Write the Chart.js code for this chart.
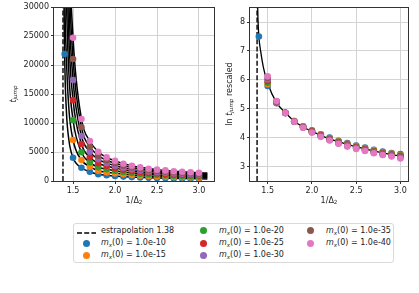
<!DOCTYPE html>
<html>
<head>
<meta charset="utf-8">
<script src="https://cdn.jsdelivr.net/npm/chart.js@4.4.0/dist/chart.umd.min.js"></script>
<style>
  html, body { margin: 0; padding: 0; background: #fff; }
  #fig { position: relative; width: 419px; height: 293px; overflow: hidden; font-family: "DejaVu Sans", sans-serif; color: #222; }
  #left { position: absolute; left: 0; top: 0; }
  #right { position: absolute; left: 222px; top: 0; }
  #legend { position: absolute; left: 73px; top: 223px; width: 321px; height: 40px; border: 1px solid #d9d9d9; border-radius: 3px; box-sizing: border-box; }
  .item { position: absolute; font-size: 8px; line-height: 10px; white-space: nowrap; }
  .dot { position: absolute; width: 7px; height: 7px; border-radius: 50%; }
  .item sub { font-size: 5.6px; vertical-align: -1.5px; line-height: 0; }
</style>
</head>
<body>
<div id="fig">
  <canvas id="left" width="222" height="212"></canvas>
  <canvas id="right" width="197" height="212"></canvas>
  <div id="legend"></div>
</div>
<script>
"use strict";

// 1/Delta_2 values of the simulations
const deltaInv = [1.4, 1.5, 1.6, 1.7, 1.8, 1.9, 2.0, 2.1, 2.2, 2.3, 2.4, 2.5, 2.6, 2.7, 2.8, 2.9, 3.0];
const mx0Labels = ["1.0e-10", "1.0e-15", "1.0e-20", "1.0e-25", "1.0e-30", "1.0e-35", "1.0e-40"];
const colors = ["#1f77b4", "#ff7f0e", "#2ca02c", "#d62728", "#9467bd", "#8c564b", "#e377c2"];
const estrapolation = 1.38;

// t_jump (left panel)
const tJump10 = [21900, 4020, 2290, 1600, 1160, 991, 862, 758, 672, 601, 556, 513, 478, 442, 416, 395, 380];
const tJump15 = [null, 7070, 3620, 2470, 1780, 1516, 1319, 1157, 1017, 910, 842, 777, 724, 669, 629, 599, 570];
const tJump20 = [null, 10520, 4950, 3220, 2360, 2038, 1772, 1540, 1367, 1226, 1120, 1032, 962, 890, 839, 797, 759];
const tJump25 = [null, 13960, 6380, 4090, 3050, 2575, 2217, 1927, 1692, 1516, 1386, 1281, 1193, 1102, 1037, 988, 939];
const tJump30 = [null, 17410, 7760, 5050, 3740, 3085, 2628, 2285, 2005, 1797, 1643, 1517, 1414, 1304, 1229, 1170, 1099];
const tJump35 = [null, 21030, 9260, 5910, 4370, 3581, 3049, 2652, 2328, 2088, 1890, 1742, 1626, 1502, 1414, 1344, 1266];
const tJump40 = [null, 24700, 10690, 6900, 5050, 4065, 3466, 2984, 2618, 2348, 2120, 1961, 1829, 1685, 1590, 1511, 1410];

// ln t_jump rescaled (right panel)
const resc10 = [7.50, 5.79, 5.19, 4.86, 4.57, 4.39, 4.25, 4.12, 4.00, 3.89, 3.81, 3.73, 3.66, 3.58, 3.52, 3.47, 3.43];
const resc15 = [null, 5.85, 5.20, 4.86, 4.57, 4.38, 4.24, 4.11, 3.98, 3.87, 3.79, 3.71, 3.64, 3.56, 3.50, 3.45, 3.40];
const resc20 = [null, 5.90, 5.22, 4.86, 4.56, 4.37, 4.23, 4.09, 3.97, 3.86, 3.77, 3.69, 3.62, 3.54, 3.48, 3.43, 3.38];
const resc25 = [null, 5.96, 5.23, 4.86, 4.56, 4.37, 4.22, 4.08, 3.95, 3.84, 3.75, 3.67, 3.60, 3.52, 3.46, 3.41, 3.36];
const resc30 = [null, 6.01, 5.24, 4.85, 4.56, 4.36, 4.20, 4.06, 3.93, 3.82, 3.73, 3.65, 3.58, 3.50, 3.44, 3.39, 3.33];
const resc35 = [null, 6.07, 5.26, 4.85, 4.55, 4.35, 4.19, 4.05, 3.92, 3.81, 3.71, 3.63, 3.56, 3.48, 3.42, 3.37, 3.31];
const resc40 = [null, 6.12, 5.27, 4.85, 4.55, 4.34, 4.18, 4.03, 3.90, 3.79, 3.69, 3.61, 3.54, 3.46, 3.40, 3.35, 3.28];

// fitted curves, left panel
const fitX = [1.385, 1.39, 1.40, 1.42, 1.45, 1.5, 1.6, 1.7, 1.8, 1.9, 2.0, 2.2, 2.5, 2.8, 3.1];
const fit10 = [70900, 37800, 21900, 12300, 7110, 4020, 2290, 1600, 1160, 991, 862, 672, 513, 416, 365];
const fit15 = [124800, 66500, 35700, 21700, 12500, 7070, 3620, 2470, 1780, 1516, 1319, 1017, 777, 629, 550];
const fit20 = [185000, 98800, 53100, 32200, 18600, 10520, 4950, 3220, 2360, 2038, 1772, 1367, 1032, 839, 730];
const fit25 = [246000, 131000, 70500, 42800, 24700, 13960, 6380, 4090, 3050, 2575, 2217, 1692, 1281, 1037, 900];
const fit30 = [307000, 163000, 87900, 53300, 30800, 17410, 7760, 5050, 3740, 3085, 2628, 2005, 1517, 1229, 1060];
const fit35 = [371000, 197000, 106000, 64400, 37200, 21030, 9260, 5910, 4370, 3581, 3049, 2328, 1742, 1414, 1220];
const fit40 = [434000, 231000, 124000, 75400, 43500, 24700, 10690, 6900, 5050, 4065, 3466, 2618, 1961, 1590, 1360];

// fitted curve, right panel
const fitRX = [1.385, 1.39, 1.40, 1.42, 1.45, 1.5, 1.6, 1.7, 1.8, 1.9, 2.0, 2.2, 2.4, 2.6, 2.8, 3.0];
const fitR = [8.75, 8.12, 7.50, 7.00, 6.45, 5.88, 5.21, 4.86, 4.57, 4.37, 4.22, 3.96, 3.77, 3.61, 3.47, 3.36];

const xTicks = [1.5, 2.0, 2.5, 3.0];
const yTicksLeft = [0, 5000, 10000, 15000, 20000, 25000, 30000];
const yTicksRight = [3, 4, 5, 6, 7, 8];

const tJump = [tJump10, tJump15, tJump20, tJump25, tJump30, tJump35, tJump40];
const rescaled = [resc10, resc15, resc20, resc25, resc30, resc35, resc40];
const fits = [fit10, fit15, fit20, fit25, fit30, fit35, fit40];

const FONT = "DejaVu Sans";
const TXT = "#222";

const toPoints = (xs, ys) =>
  xs.map((x, i) => ({ x: x, y: ys[i] })).filter((p) => p.y !== null);

const fontFor = (p) =>
  (p.it ? "italic " : "") + (p.sub ? "5.6px " : "8px ") + '"' + FONT + '"';

function drawParts(ctx, parts, cx, cy) {
  let w = 0;
  parts.forEach((p) => {
    ctx.font = fontFor(p);
    w += ctx.measureText(p.t).width;
  });
  let x = cx - w / 2;
  parts.forEach((p) => {
    ctx.font = fontFor(p);
    ctx.fillText(p.t, x, cy + (p.sub ? 2 : 0));
    x += ctx.measureText(p.t).width;
  });
}

const makeTitles = (xParts, yParts, yOffset) => ({
  id: "titles",
  afterDraw(chart) {
    const ctx = chart.ctx;
    const a = chart.chartArea;
    ctx.save();
    ctx.fillStyle = TXT;
    ctx.textAlign = "left";
    ctx.textBaseline = "middle";
    drawParts(ctx, xParts, (a.left + a.right) / 2, a.bottom + 20);
    ctx.translate(a.left - yOffset, (a.top + a.bottom) / 2);
    ctx.rotate(-Math.PI / 2);
    drawParts(ctx, yParts, 0, 0);
    ctx.restore();
  },
});

const frame = {
  id: "frame",
  afterDatasetsDraw(chart) {
    const ctx = chart.ctx;
    const a = chart.chartArea;
    ctx.save();
    ctx.strokeStyle = "#333";
    ctx.lineWidth = 1;
    ctx.strokeRect(Math.round(a.left) - 0.5, Math.round(a.top) + 0.5,
      Math.round(a.right - a.left) + 1, Math.round(a.bottom - a.top));
    ctx.restore();
  },
};

function makeScales(xMin, xMax, yMin, yMax, yTicks, yWidth) {
  const grid = { color: "#d3d3d3", lineWidth: 1, drawTicks: true, tickLength: 3, tickColor: "#333" };
  const ticks = { font: { family: FONT, size: 8 }, color: TXT, padding: 2, autoSkip: false, maxRotation: 0 };
  return {
    x: {
      type: "linear", min: xMin, max: xMax, grid: grid, border: { display: false },
      ticks: Object.assign({}, ticks, { callback: (v) => v.toFixed(1) }),
      afterBuildTicks: (s) => { s.ticks = xTicks.map((v) => ({ value: v })); },
      afterFit: (s) => { s.height = 31; },
    },
    y: {
      type: "linear", min: yMin, max: yMax, grid: grid, border: { display: false },
      ticks: Object.assign({}, ticks, { callback: (v) => String(v) }),
      afterBuildTicks: (s) => { s.ticks = yTicks.map((v) => ({ value: v })); },
      afterFit: (s) => { s.width = yWidth; },
    },
  };
}

function markerSets(values) {
  return values.map((arr, k) => ({
    data: toPoints(deltaInv, arr),
    showLine: false,
    pointRadius: 3.3,
    pointHoverRadius: 3.3,
    pointBorderWidth: 0,
    backgroundColor: colors[k],
    borderColor: colors[k],
    order: 6 - k,
  }));
}

const curveSet = (xs, ys, width) => ({
  data: toPoints(xs, ys),
  showLine: true,
  pointRadius: 0,
  borderColor: "#000",
  borderWidth: width,
  cubicInterpolationMode: "monotone",
  fill: false,
  order: 10,
});

const dashedSet = (yMin, yMax) => ({
  data: [{ x: estrapolation, y: yMin }, { x: estrapolation, y: yMax }],
  showLine: true,
  pointRadius: 0,
  borderColor: "#000",
  borderWidth: 1.4,
  borderDash: [5, 2.2],
  order: 11,
});

const baseOptions = (scales, padRight) => ({
  responsive: false,
  animation: false,
  devicePixelRatio: 1,
  layout: { padding: { top: 7, right: padRight, left: 0, bottom: 0 } },
  plugins: { legend: { display: false }, tooltip: { enabled: false } },
  scales: scales,
});

// left panel: t_jump
new Chart(document.getElementById("left").getContext("2d"), {
  type: "scatter",
  data: {
    datasets: [dashedSet(0, 30000)]
      .concat(fits.map((f) => curveSet(fitX, f, 1.5)))
      .concat(markerSets(tJump)),
  },
  options: baseOptions(makeScales(1.273, 3.179, 0, 30000, yTicksLeft, 54), 8),
  plugins: [frame, makeTitles(
    [{ t: "1/Δ" }, { t: "2", sub: true }],
    [{ t: "t", it: true }, { t: "jump", it: true, sub: true }],
    40.5)],
});

// right panel: ln t_jump rescaled
new Chart(document.getElementById("right").getContext("2d"), {
  type: "scatter",
  data: {
    datasets: [dashedSet(2.5, 8.52), curveSet(fitRX, fitR, 1.3)]
      .concat(markerSets(rescaled)),
  },
  options: baseOptions(makeScales(1.30, 3.086, 2.5, 8.52, yTicksRight, 28), 11),
  plugins: [frame, makeTitles(
    [{ t: "1/Δ" }, { t: "2", sub: true }],
    [{ t: "ln " }, { t: "t", it: true }, { t: "jump", it: true, sub: true }, { t: " rescaled" }],
    20.5)],
});

// legend (matplotlib style, filled column by column)
const legend = document.getElementById("legend");
const colDot = [12, 129, 236];
const colText = [27, 145, 252];
const rowY = [7.7, 20, 32.4];
const entries = [{ dashed: true, label: "estrapolation " + estrapolation }].concat(
  mx0Labels.map((m, k) => ({ color: colors[k], label: "<i>m</i><sub><i>x</i></sub>(0) = " + m })));

entries.forEach((e, i) => {
  const col = Math.floor(i / 3);
  const row = i % 3;
  if (e.dashed) {
    const h = document.createElement("div");
    h.className = "item";
    h.style.left = "3px";
    h.style.top = (rowY[row] - 3) + "px";
    h.innerHTML = '<svg width="20" height="6"><line x1="0" y1="3" x2="19" y2="3" stroke="#000" stroke-width="1.4" stroke-dasharray="5,2.2"/></svg>';
    legend.appendChild(h);
  } else {
    const d = document.createElement("div");
    d.className = "dot";
    d.style.background = e.color;
    d.style.left = (colDot[col] - 3.5) + "px";
    d.style.top = (rowY[row] - 3.5 - 1) + "px";
    legend.appendChild(d);
  }
  const t = document.createElement("div");
  t.className = "item";
  t.style.left = colText[col] + "px";
  t.style.top = (rowY[row] - 6) + "px";
  t.innerHTML = e.label;
  legend.appendChild(t);
});
</script>
</body>
</html>
